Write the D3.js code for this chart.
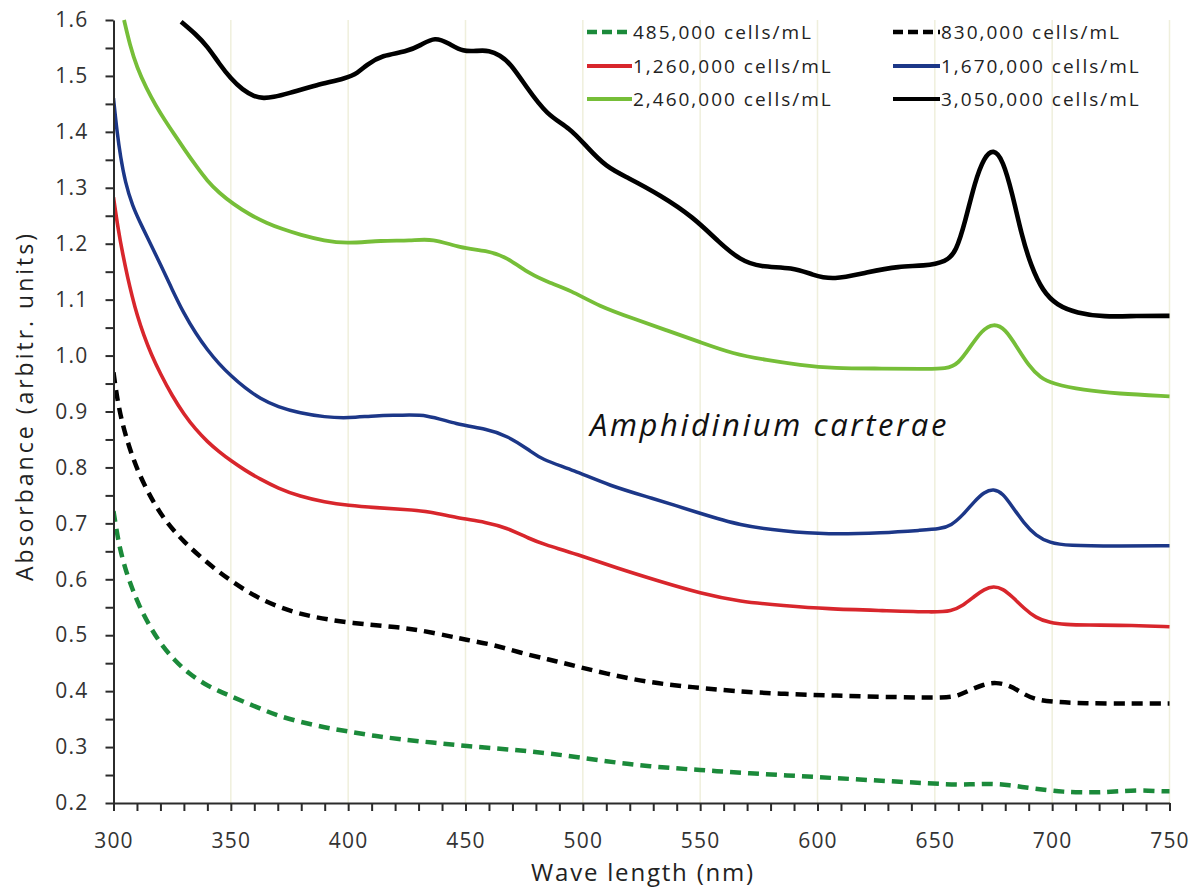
<!DOCTYPE html>
<html><head><meta charset="utf-8">
<script src="https://cdn.jsdelivr.net/npm/d3@7/dist/d3.min.js"></script>
<style>body{margin:0;background:#fff}svg{display:block}</style>
</head><body>
<svg id="chart" width="1203" height="890"></svg>
<script>
// ---------- data ----------
const seriesLabels = ["485,000 cells/mL","830,000 cells/mL","1,260,000 cells/mL","1,670,000 cells/mL","2,460,000 cells/mL","3,050,000 cells/mL"];
const xTickLabels = [300,350,400,450,500,550,600,650,700,750];
const yTickLabels = [0.2,0.3,0.4,0.5,0.6,0.7,0.8,0.9,1.0,1.1,1.2,1.3,1.4,1.5,1.6];

const wl485  = [300,301.5,303,305.5,308,311,315,320,326,332,339,345,350,356,362.5,370,379.5,390,400,411,422,436,450,468,486,507,528.7,550,571,592.6,614,635,656,665,673.5,682,689.7,697.8,704.7,712,720.3,728,737.4,745.9,750];
const abs485 = [0.722,0.682,0.650,0.612,0.583,0.552,0.519,0.485,0.455,0.432,0.412,0.400,0.391,0.380,0.369,0.356,0.345,0.335,0.328,0.320,0.314,0.308,0.302,0.296,0.289,0.276,0.265,0.259,0.253,0.248,0.243,0.238,0.233,0.233,0.235,0.232,0.227,0.223,0.220,0.219,0.219,0.221,0.223,0.221,0.221];

const wl830  = [300,302,305.6,310.6,317.7,323,329.7,339.7,350,362.5,379.5,400,422,430.7,443.5,450,462,473,486,493,510,528.7,547,564,585.5,606.8,635,655,660,665,670.7,676,682,687,692,699,713.4,735,750];
const abs830 = [0.970,0.909,0.849,0.789,0.732,0.700,0.668,0.630,0.597,0.563,0.536,0.522,0.514,0.509,0.498,0.492,0.483,0.469,0.456,0.449,0.431,0.415,0.407,0.400,0.395,0.392,0.389,0.388,0.392,0.402,0.412,0.416,0.410,0.397,0.386,0.381,0.378,0.378,0.378];

const wl1260  = [300,302,304,306,308,310,313,316,320,325,330,335,340,345,350,356,362.5,370,379.5,390,400,412,424,435,446,459,467.6,477.6,483,497.4,514.5,533,550,567,585.5,604,628,650,657,662,667,671,675,679,683,688,693,699,706,713.4,735,750];
const abs1260 = [1.283,1.225,1.180,1.140,1.105,1.073,1.035,1.003,0.967,0.928,0.895,0.868,0.846,0.828,0.812,0.795,0.779,0.763,0.748,0.738,0.732,0.728,0.725,0.721,0.710,0.702,0.692,0.672,0.663,0.645,0.620,0.596,0.575,0.560,0.553,0.547,0.544,0.541,0.543,0.553,0.570,0.582,0.588,0.583,0.569,0.548,0.531,0.522,0.519,0.518,0.518,0.515];

const wl1670  = [300,301.5,303,305,308,312,316,320,325,330,335,340,345,350,356,362.5,370,379.5,390,400,412,422,433.5,446,459,467.6,477.6,482,496,511.6,528.7,550,567,585.5,604,628,645,652,657,662,667,671,675,679,683,688,693,699,706.3,727.6,750];
const abs1670 = [1.460,1.400,1.355,1.310,1.268,1.232,1.198,1.163,1.118,1.075,1.040,1.010,0.985,0.964,0.942,0.923,0.908,0.897,0.890,0.888,0.893,0.893,0.895,0.877,0.869,0.857,0.830,0.815,0.795,0.767,0.746,0.718,0.696,0.686,0.680,0.683,0.688,0.690,0.696,0.715,0.740,0.756,0.762,0.754,0.730,0.700,0.678,0.665,0.660,0.659,0.660];

const wl2460  = [304.5,307,310,314,318,322,326,330,335,340,345,351,358,365.3,372,379.5,390,399.4,414.3,426.4,436,447.7,459,467.6,477.6,486,494.6,507,521.6,535.8,550,564,578.4,592.6,606.8,628,645,655,660,665,670,675,680,685,690,695,700,713.4,727.6,750];
const abs2460 = [1.600,1.555,1.515,1.478,1.447,1.420,1.395,1.370,1.340,1.312,1.291,1.271,1.252,1.237,1.226,1.216,1.205,1.200,1.206,1.205,1.210,1.192,1.188,1.176,1.145,1.130,1.117,1.088,1.066,1.045,1.024,1.003,0.992,0.983,0.977,0.977,0.976,0.976,0.985,1.015,1.045,1.058,1.048,1.015,0.982,0.960,0.950,0.938,0.932,0.927];

const wl3050  = [328.8,335,340,345,350,355,360,364,368,374,386.6,399.4,404,407.9,414.3,424.9,431,437,443,449,455,460,464.7,469,476,484.7,494.5,501.7,510,518.8,533,547,558.4,567,575.5,589.5,598,606.6,621,635,645.2,655,659,663,667,671,675,679,683,687,691,696,702,710.5,721.9,736,750];
const abs3050 = [1.597,1.575,1.553,1.522,1.495,1.475,1.463,1.460,1.462,1.468,1.484,1.496,1.505,1.520,1.537,1.543,1.555,1.570,1.558,1.543,1.545,1.546,1.537,1.523,1.480,1.430,1.407,1.373,1.337,1.319,1.287,1.248,1.201,1.171,1.158,1.158,1.144,1.135,1.149,1.160,1.160,1.168,1.185,1.240,1.310,1.355,1.370,1.350,1.290,1.215,1.160,1.115,1.090,1.076,1.069,1.071,1.071];

const seriesWl  = [wl485, wl830, wl1260, wl1670, wl2460, wl3050];
const seriesAbs = [abs485, abs830, abs1260, abs1670, abs2460, abs3050];

// ---------- styles ----------
const styles = [
  {color:"#1b8a3a", width:4.5, dash:"11,7", legendDash:"10,5"},
  {color:"#000000", width:4.5, dash:"11,7", legendDash:"10,5"},
  {color:"#d8262c", width:3.6, dash:null},
  {color:"#1c3788", width:3.5, dash:null},
  {color:"#76be38", width:3.8, dash:null},
  {color:"#000000", width:4.6, dash:null}
];

const svg = d3.select("#chart");
const pLeft = 113.5, pRight = 1169.5, pTop = 20, pBottom = 803;
const x = d3.scaleLinear().domain([300,750]).range([pLeft,pRight]);
const y = d3.scaleLinear().domain([0.2,1.6]).range([pBottom,pTop]);
const font = "'Open Sans', sans-serif";

// gridlines
svg.append("g").selectAll("line").data(xTickLabels.slice(1)).join("line")
  .attr("x1", d=>x(d)).attr("x2", d=>x(d)).attr("y1", pTop).attr("y2", pBottom)
  .attr("stroke", "#efefdc").attr("stroke-width", 1.5);

// clip
svg.append("clipPath").attr("id","clip").append("rect")
  .attr("x", pLeft).attr("y", pTop-2).attr("width", pRight-pLeft+2).attr("height", pBottom-pTop+2);

const line = d3.line().x(d=>x(d[0])).y(d=>y(d[1])).curve(d3.curveBasis);
const plot = svg.append("g").attr("clip-path","url(#clip)");
seriesWl.forEach((wl,i)=>{
  const pts = wl.map((w,j)=>[w, seriesAbs[i][j]]);
  const s = styles[i];
  plot.append("path").datum(pts).attr("d", line)
    .attr("fill","none").attr("stroke", s.color).attr("stroke-width", s.width)
    .attr("stroke-linejoin","round")
    .attr("stroke-dasharray", s.dash);
});

// axes
const xAxis = d3.axisBottom(x).tickValues(d3.range(300,751,10)).tickSize(8).tickSizeOuter(0).tickPadding(22)
  .tickFormat(d => xTickLabels.includes(d) ? d : "");
const gx = svg.append("g").attr("transform",`translate(0,${pBottom})`).call(xAxis);
const yAxis = d3.axisLeft(y).tickValues(d3.range(0,29).map(i=>+(0.2+i*0.05).toFixed(2))).tickSize(8).tickSizeOuter(0).tickPadding(17)
  .tickFormat(d => yTickLabels.some(v=>Math.abs(v-d)<1e-6) ? d3.format(".1f")(d) : "");
const gy = svg.append("g").attr("transform",`translate(${pLeft},0)`).call(yAxis);
[gx,gy].forEach(g=>{
  g.select(".domain").attr("stroke","#2b2b2b").attr("stroke-width",2);
  g.selectAll(".tick line").attr("stroke","#2b2b2b").attr("stroke-width",2);
  g.selectAll("text").attr("fill","#333").style("font-family",font).style("font-size","21px").style("letter-spacing","1.2px");
});

// axis titles
svg.append("text").attr("x", 643).attr("y", 881).attr("text-anchor","middle")
  .style("font-family",font).style("font-size","24px").style("letter-spacing","1.8px").attr("fill","#222")
  .text("Wave length (nm)");
svg.append("text").attr("transform","translate(33,406) rotate(-90)").attr("text-anchor","middle")
  .style("font-family",font).style("font-size","23px").style("letter-spacing","3px").attr("fill","#222")
  .text("Absorbance (arbitr. units)");

// annotation
svg.append("text").attr("x", 590).attr("y", 436)
  .style("font-family",font).style("font-size","31px").style("font-style","italic").style("letter-spacing","2.6px").attr("fill","#111")
  .text("Amphidinium carterae");

// legend
const legCols = [[587,632],[893,940]];
const legRows = [32,66,99];
seriesLabels.forEach((lab,k)=>{
  const col = k%2, row = Math.floor(k/2);
  const [x1,x2] = legCols[col];
  const yy = legRows[row];
  const s = styles[k];
  svg.append("line").attr("x1",x1).attr("x2",x2).attr("y1",yy).attr("y2",yy)
    .attr("stroke",s.color).attr("stroke-width", s.dash ? 4.5 : 4).attr("stroke-dasharray", s.legendDash || null);
  svg.append("text").attr("x",x2+1).attr("y",yy+7)
    .style("font-family",font).style("font-size","19px").style("letter-spacing","2px").attr("fill","#222")
    .text(lab);
});
</script>
</body></html>
